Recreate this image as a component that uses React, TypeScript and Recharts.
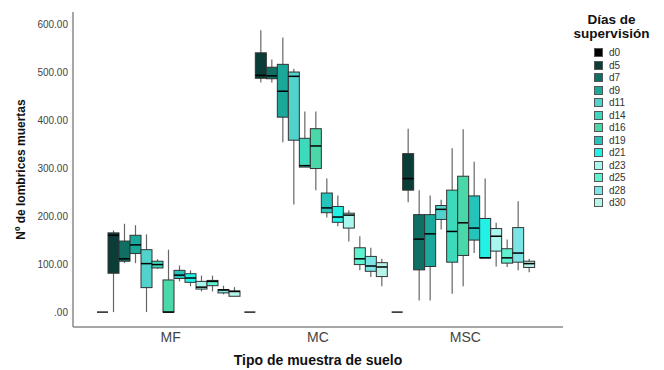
import React from 'react';
import { ComposedChart, Bar, XAxis, YAxis, Label } from 'recharts';

const categories = ['MF', 'MC', 'MSC'];
const days = ['d0', 'd5', 'd7', 'd9', 'd11', 'd14', 'd16', 'd19', 'd21', 'd23', 'd25', 'd28', 'd30'];
const dayColors = ['#000000', '#0a3d38', '#0f6f65', '#19a899', '#52d2cc', '#3cd9bd', '#4ad8aa', '#25c3bb', '#22f2e6', '#a8f6ee', '#5ff2d0', '#7be5e6', '#b6f4e9'];

// [min, q1, median, q3, max] per day
const mfBoxes = [
  [0, 0, 0, 0, 0],
  [0, 81, 160, 165, 170],
  [102, 106, 111, 148, 184],
  [102, 122, 140, 160, 181],
  [0, 51, 101, 130, 162],
  [90, 92, 99, 106, 110],
  [0, 0, 0, 67, 130],
  [64, 70, 77, 87, 97],
  [54, 62, 71, 80, 87],
  [43, 48, 52, 64, 76],
  [43, 55, 64, 66, 76],
  [37, 40, 46, 47, 55],
  [33, 33, 43, 44, 52],
];
const mcBoxes = [
  [0, 0, 0, 0, 0],
  [478, 487, 493, 540, 587],
  [478, 486, 492, 510, 526],
  [354, 406, 460, 516, 572],
  [224, 358, 491, 500, 507],
  [302, 302, 305, 362, 418],
  [254, 299, 346, 382, 418],
  [197, 207, 217, 248, 278],
  [179, 187, 198, 220, 243],
  [147, 175, 202, 206, 212],
  [87, 99, 111, 134, 158],
  [73, 85, 96, 116, 134],
  [54, 74, 94, 103, 111],
];
const mscBoxes = [
  [0, 0, 0, 0, 0],
  [229, 254, 278, 330, 382],
  [24, 88, 152, 203, 254],
  [24, 95, 163, 203, 243],
  [172, 193, 214, 222, 234],
  [38, 104, 168, 254, 341],
  [54, 118, 186, 283, 381],
  [123, 150, 175, 242, 313],
  [113, 113, 113, 195, 278],
  [95, 127, 158, 174, 186],
  [94, 102, 113, 132, 151],
  [87, 104, 123, 176, 231],
  [83, 93, 101, 106, 111],
];
const yTicks = [0, 100, 200, 300, 400, 500, 600];

const groups = [mfBoxes, mcBoxes, mscBoxes];
const data = categories.map((c, gi) => {
  const row: any = { name: c };
  days.forEach((d, i) => {
    row[d] = groups[gi][i];
  });
  return row;
});

const FONT = '"Liberation Sans", Arial, sans-serif';

const fmt = (v: number) => (v === 0 ? '.00' : v.toFixed(2));

function makeShape(key: string, color: string) {
  return (props: any) => {
    const { x, y, width, height, payload } = props;
    const s = payload[key];
    const [mn, q1, md, q3, mx] = s;
    const top = Math.min(y, y + height);
    const h = Math.abs(height);
    if (mx === mn) {
      return <line x1={x} x2={x + width} y1={top} y2={top} stroke="#222" strokeWidth={1.5} />;
    }
    const py = (v: number) => top + ((mx - v) / (mx - mn)) * h;
    const cx = x + width / 2;
    return (
      <g>
        <line x1={cx} x2={cx} y1={py(mx)} y2={py(mn)} stroke="#666" strokeWidth={1.2} />
        <rect x={x} y={py(q3)} width={width} height={Math.max(py(q1) - py(q3), 0.5)} fill={color} stroke="#333" strokeWidth={1} />
        <line x1={x} x2={x + width} y1={py(md)} y2={py(md)} stroke="#000" strokeWidth={1.5} />
      </g>
    );
  };
}

const XTick = (props: any) => {
  const { x, y, payload } = props;
  return (
    <text x={x} y={y} dy={10} textAnchor="middle" fontFamily={FONT} fontSize={14} fill="#444">
      {payload.value}
    </text>
  );
};

const YTick = (props: any) => {
  const { x, y, payload } = props;
  return (
    <text x={x} y={y} dy={3.5} textAnchor="end" fontFamily={FONT} fontSize={10} fill="#444">
      {fmt(payload.value)}
    </text>
  );
};

export default function App() {
  return (
    <div style={{ position: 'relative', width: 664, height: 370, background: '#fff' }}>
      <style>{'body{margin:0;}'}</style>
      <ComposedChart
        width={664}
        height={370}
        data={data}
        margin={{ top: 12, right: 101, bottom: 0, left: 0 }}
        barGap={0}
        barCategoryGap={0}
      >
        <XAxis
          dataKey="name"
          padding={{ left: 24, right: 24 }}
          height={43}
          tickLine={false}
          tickSize={5}
          tickMargin={0}
          axisLine={{ stroke: '#888', strokeWidth: 1.5 }}
          tick={<XTick />}
          interval={0}
        >
          <Label
            content={(p: any) => {
              const vb = p.viewBox;
              return (
                <text x={vb.x + vb.width / 2} y={365} textAnchor="middle" fontFamily={FONT} fontSize={14} fontWeight="bold" fill="#111">
                  Tipo de muestra de suelo
                </text>
              );
            }}
          />
        </XAxis>
        <YAxis
          type="number"
          domain={[-31, 625]}
          ticks={yTicks}
          allowDataOverflow
          width={73}
          tickLine={false}
          tickSize={5}
          tickMargin={0}
          axisLine={{ stroke: '#888', strokeWidth: 1.5 }}
          tick={<YTick />}
        >
          <Label
            content={(p: any) => {
              const vb = p.viewBox;
              const cy = vb.y + vb.height / 2;
              return (
                <text x={25} y={cy} transform={`rotate(-90, 25, ${cy})`} textAnchor="middle" fontFamily={FONT} fontSize={12} fontWeight="bold" fill="#111">
                  Nº de lombrices muertas
                </text>
              );
            }}
          />
        </YAxis>
        {days.map((d, i) => (
          <Bar
            key={d}
            name={d}
            dataKey={(r: any) => [r[d][0], r[d][4]]}
            fill={dayColors[i]}
            isAnimationActive={false}
            shape={makeShape(d, dayColors[i])}
          />
        ))}
      </ComposedChart>
      <div style={{ position: 'absolute', left: 560, top: 0, width: 104, fontFamily: FONT }}>
        <div style={{ position: 'absolute', left: 0, top: 13, width: 103, textAlign: 'center', fontSize: 13.5, fontWeight: 'bold', lineHeight: '14px', color: '#111' }}>
          Días de
          <br />
          supervisión
        </div>
        {days.map((d, i) => (
          <div key={d} style={{ position: 'absolute', left: 34, top: 48 + i * 12.5, height: 9, display: 'flex', alignItems: 'center' }}>
            <div style={{ width: 7, height: 7, background: dayColors[i], border: '1px solid #555' }} />
            <span style={{ marginLeft: 6, fontSize: 10, color: '#333', lineHeight: '9px' }}>{d}</span>
          </div>
        ))}
      </div>
    </div>
  );
}
